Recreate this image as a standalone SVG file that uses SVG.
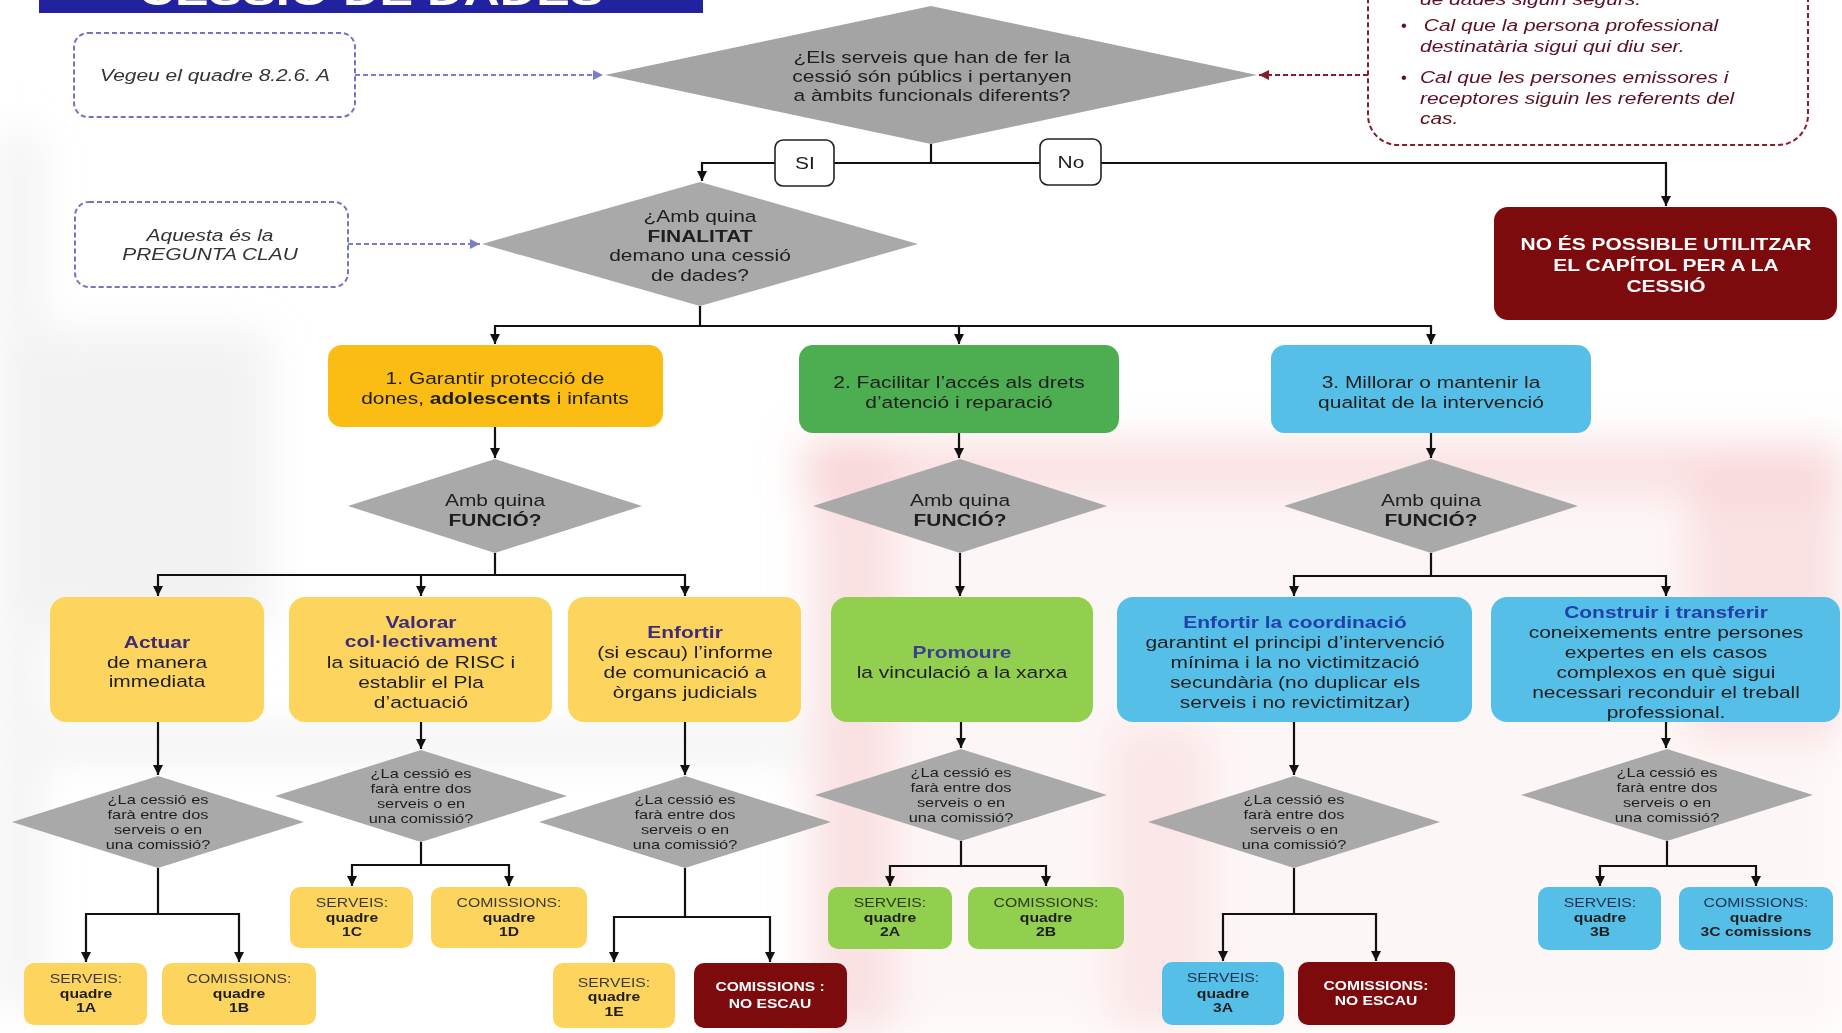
<svg xmlns="http://www.w3.org/2000/svg" width="1842" height="1033" viewBox="0 0 1842 1033">
<defs>
<style>
.tx{font-family:"Liberation Sans",Arial,sans-serif;text-anchor:middle;fill:#1e1e1e}
.st{text-anchor:start}
.s165{font-size:16.5px}
.s13{font-size:13px}
.s125{font-size:12.5px}
.b{font-weight:bold}
.it{font-style:italic}
.w{fill:#ffffff}
.hp{fill:#3d2c78;font-weight:bold}
.hg{fill:#3a3f8f;font-weight:bold}
.hb{fill:#2140a8;font-weight:bold}
.dia{fill:#a9a9a9}
.org{fill:#fbbd14}
.yel{fill:#fdd55e}
.grn{fill:#4cae50}
.lgr{fill:#92cf4f}
.blu{fill:#56bfe8}
.red{fill:#7d0b0e}
.lbl{fill:#ffffff;stroke:#222;stroke-width:1.6}
.dashp{fill:#ffffff;stroke:#7474c4;stroke-width:2;stroke-dasharray:5 3}
.dashr{fill:#ffffff;stroke:#8b1a2a;stroke-width:2;stroke-dasharray:5 3}
</style>
<marker id="ah" viewBox="0 0 10 10" refX="10" refY="5" markerWidth="10" markerHeight="10" markerUnits="userSpaceOnUse" orient="auto"><path d="M0,0 L10,5 L0,10 z" fill="#111"/></marker>
<marker id="ahp" viewBox="0 0 10 10" refX="10" refY="5" markerWidth="10" markerHeight="10" markerUnits="userSpaceOnUse" orient="auto"><path d="M0,0 L10,5 L0,10 z" fill="#7b7bd0"/></marker>
<marker id="ahr" viewBox="0 0 10 10" refX="10" refY="5" markerWidth="10" markerHeight="10" markerUnits="userSpaceOnUse" orient="auto"><path d="M0,0 L10,5 L0,10 z" fill="#8b1a2a"/></marker>
<filter id="blur" filterUnits="userSpaceOnUse" x="-100" y="-100" width="2042" height="1233"><feGaussianBlur stdDeviation="20"/></filter>
</defs>
<rect x="0" y="0" width="1842" height="1033" fill="#ffffff"/>
<g id="background" filter="url(#blur)">
<g fill="#e2e2e2" opacity="0.45">
<rect x="0" y="130" width="40" height="880"/>
<rect x="0" y="726" width="800" height="34"/>
<rect x="40" y="330" width="230" height="300"/>
</g>
<g fill="#f4c0c4">
<rect x="800" y="440" width="1042" height="593" opacity="0.15"/>
<rect x="800" y="440" width="1042" height="55" opacity="0.4"/>
<rect x="815" y="440" width="80" height="593" opacity="0.4"/>
<rect x="1690" y="470" width="152" height="270" opacity="0.4"/>
<rect x="1110" y="725" width="100" height="308" opacity="0.3"/>
</g>
</g>
<g id="connectors" fill="none" stroke="#111" stroke-width="2.2">
<path d="M355,75 H603" stroke="#7b7bd0" stroke-dasharray="5 3" marker-end="url(#ahp)"/>
<path d="M348,244 H480" stroke="#7b7bd0" stroke-dasharray="5 3" marker-end="url(#ahp)"/>
<path d="M1368,75 H1259" stroke="#8b1a2a" stroke-dasharray="5 3" marker-end="url(#ahr)"/>
<path d="M931,144 V163"/>
<path d="M931,163 H702 V181" marker-end="url(#ah)"/>
<path d="M931,163 H1666 V206" marker-end="url(#ah)"/>
<path d="M700,306 V326"/>
<path d="M700,326 H495 V344" marker-end="url(#ah)"/>
<path d="M700,326 H1431 V344" marker-end="url(#ah)"/>
<path d="M959,326 V344" marker-end="url(#ah)"/>
<path d="M495,427 V458" marker-end="url(#ah)"/>
<path d="M959,433 V458" marker-end="url(#ah)"/>
<path d="M1431,433 V458" marker-end="url(#ah)"/>
<path d="M495,553 V575"/>
<path d="M495,575 H158 V596" marker-end="url(#ah)"/>
<path d="M495,575 H685 V596" marker-end="url(#ah)"/>
<path d="M421,575 V596" marker-end="url(#ah)"/>
<path d="M960,553 V596" marker-end="url(#ah)"/>
<path d="M1431,553 V576"/>
<path d="M1431,576 H1294 V596" marker-end="url(#ah)"/>
<path d="M1431,576 H1666 V596" marker-end="url(#ah)"/>
<path d="M158,722 V775" marker-end="url(#ah)"/>
<path d="M421,722 V749" marker-end="url(#ah)"/>
<path d="M685,722 V775" marker-end="url(#ah)"/>
<path d="M961,722 V748" marker-end="url(#ah)"/>
<path d="M1294,722 V775" marker-end="url(#ah)"/>
<path d="M1666,722 V748" marker-end="url(#ah)"/>
<path d="M158,868 V914"/>
<path d="M158,914 H86 V962" marker-end="url(#ah)"/>
<path d="M158,914 H239 V962" marker-end="url(#ah)"/>
<path d="M421,842 V865"/>
<path d="M421,865 H352 V886" marker-end="url(#ah)"/>
<path d="M421,865 H509 V886" marker-end="url(#ah)"/>
<path d="M685,868 V917"/>
<path d="M685,917 H614 V962" marker-end="url(#ah)"/>
<path d="M685,917 H770 V962" marker-end="url(#ah)"/>
<path d="M961,841 V866"/>
<path d="M961,866 H890 V886" marker-end="url(#ah)"/>
<path d="M961,866 H1046 V886" marker-end="url(#ah)"/>
<path d="M1294,868 V914"/>
<path d="M1294,914 H1223 V961" marker-end="url(#ah)"/>
<path d="M1294,914 H1376 V961" marker-end="url(#ah)"/>
<path d="M1667,841 V866"/>
<path d="M1667,866 H1600 V886" marker-end="url(#ah)"/>
<path d="M1667,866 H1756 V886" marker-end="url(#ah)"/>
</g>
<g id="n-title">
<rect x="39" y="0" width="664" height="13" fill="#2222a0"/>
<g transform="translate(371 0) scale(1.26 1)"><text class="tx b w" style="font-size:40px" y="5">CESSIÓ DE DADES</text></g>
</g>
<g id="n-vegeu">
<rect class="dashp" x="74" y="33" width="281" height="84" rx="14"/>
<g transform="translate(215 0) scale(1.27 1)"><text class="tx s165 it" style="fill:#333" y="81">Vegeu el quadre 8.2.6. A</text></g>
</g>
<g id="n-q1">
<polygon class="dia" style="fill:#a4a4a4" points="605,75 931,6 1257,75 931,144"/>
<g transform="translate(932 0) scale(1.27 1)">
<text class="tx s165" y="63">¿Els serveis que han de fer la</text>
<text class="tx s165" y="82">cessió són públics i pertanyen</text>
<text class="tx s165" y="101">a àmbits funcionals diferents?</text>
</g>
</g>
<g id="n-nota">
<rect class="dashr" x="1368" y="-30" width="440" height="175" rx="30"/>
<text class="tx s165" style="fill:#5a1020" x="1404" y="31">•</text>
<text class="tx s165" style="fill:#5a1020" x="1404" y="83">•</text>
<g transform="translate(1420 0) scale(1.27 1)">
<text class="tx st s165 it" style="fill:#5a1020" y="5">de dades siguin segurs.</text>
<text class="tx st s165 it" style="fill:#5a1020" x="3" y="31">Cal que la persona professional</text>
<text class="tx st s165 it" style="fill:#5a1020" y="52">destinatària sigui qui diu ser.</text>
<text class="tx st s165 it" style="fill:#5a1020" y="83">Cal que les persones emissores i</text>
<text class="tx st s165 it" style="fill:#5a1020" y="104">receptores siguin les referents del</text>
<text class="tx st s165 it" style="fill:#5a1020" y="124">cas.</text>
</g>
</g>
<g id="n-si">
<rect class="lbl" x="775" y="140" width="59" height="46" rx="8"/>
<g transform="translate(805 0) scale(1.27 1)"><text class="tx s165" y="169">SI</text></g>
</g>
<g id="n-no">
<rect class="lbl" x="1040" y="139" width="61" height="46" rx="8"/>
<g transform="translate(1071 0) scale(1.27 1)"><text class="tx s165" y="168">No</text></g>
</g>
<g id="n-noes">
<rect class="red" x="1494" y="207" width="343" height="113" rx="14"/>
<g transform="translate(1666 0) scale(1.27 1)">
<text class="tx s165 b w" y="250">NO ÉS POSSIBLE UTILITZAR</text>
<text class="tx s165 b w" y="271">EL CAPÍTOL PER A LA</text>
<text class="tx s165 b w" y="292">CESSIÓ</text>
</g>
</g>
<g id="n-aquesta">
<rect class="dashp" x="75" y="202" width="273" height="85" rx="14"/>
<g transform="translate(210 0) scale(1.27 1)">
<text class="tx s165 it" style="fill:#333" y="241">Aquesta és la</text>
<text class="tx s165 it" style="fill:#333" y="260">PREGUNTA CLAU</text>
</g>
</g>
<g id="n-q2">
<polygon class="dia" points="482,244 700,182 918,244 700,306"/>
<g transform="translate(700 0) scale(1.27 1)">
<text class="tx s165" y="222">¿Amb quina</text>
<text class="tx s165 b" y="242">FINALITAT</text>
<text class="tx s165" y="261">demano una cessió</text>
<text class="tx s165" y="281">de dades?</text>
</g>
</g>
<g id="n-f1">
<rect class="org" x="328" y="345" width="335" height="82" rx="14"/>
<g transform="translate(495 0) scale(1.27 1)">
<text class="tx s165" y="384">1. Garantir protecció de</text>
<text class="tx s165" y="404">dones, <tspan class="b">adolescents</tspan> i infants</text>
</g>
</g>
<g id="n-f2">
<rect class="grn" x="799" y="345" width="320" height="88" rx="14"/>
<g transform="translate(959 0) scale(1.27 1)">
<text class="tx s165" y="388">2. Facilitar l’accés als drets</text>
<text class="tx s165" y="408">d’atenció i reparació</text>
</g>
</g>
<g id="n-f3">
<rect class="blu" x="1271" y="345" width="320" height="88" rx="14"/>
<g transform="translate(1431 0) scale(1.27 1)">
<text class="tx s165" y="388">3. Millorar o mantenir la</text>
<text class="tx s165" y="408">qualitat de la intervenció</text>
</g>
</g>
<g id="n-qa1">
<polygon class="dia" points="348,506 495,459 642,506 495,553"/>
<g transform="translate(495 0) scale(1.27 1)"><text class="tx s165" y="506">Amb quina</text><text class="tx s165 b" y="526">FUNCIÓ?</text></g>
</g>
<g id="n-qa2">
<polygon class="dia" points="813,506 960,459 1107,506 960,553"/>
<g transform="translate(960 0) scale(1.27 1)"><text class="tx s165" y="506">Amb quina</text><text class="tx s165 b" y="526">FUNCIÓ?</text></g>
</g>
<g id="n-qa3">
<polygon class="dia" points="1284,506 1431,459 1578,506 1431,553"/>
<g transform="translate(1431 0) scale(1.27 1)"><text class="tx s165" y="506">Amb quina</text><text class="tx s165 b" y="526">FUNCIÓ?</text></g>
</g>
<g id="n-actuar">
<rect class="yel" x="50" y="597" width="214" height="125" rx="16"/>
<g transform="translate(157 0) scale(1.27 1)">
<text class="tx s165 hp" y="648">Actuar</text>
<text class="tx s165" y="668">de manera</text>
<text class="tx s165" y="687">immediata</text>
</g>
</g>
<g id="n-valorar">
<rect class="yel" x="289" y="597" width="263" height="125" rx="16"/>
<g transform="translate(421 0) scale(1.27 1)">
<text class="tx s165 hp" y="628">Valorar</text>
<text class="tx s165 hp" y="647">col·lectivament</text>
<text class="tx s165" y="668">la situació de RISC i</text>
<text class="tx s165" y="688">establir el Pla</text>
<text class="tx s165" y="708">d’actuació</text>
</g>
</g>
<g id="n-enfortir">
<rect class="yel" x="568" y="597" width="233" height="125" rx="16"/>
<g transform="translate(685 0) scale(1.27 1)">
<text class="tx s165 hp" y="638">Enfortir</text>
<text class="tx s165" y="658">(si escau) l’informe</text>
<text class="tx s165" y="678">de comunicació a</text>
<text class="tx s165" y="698">òrgans judicials</text>
</g>
</g>
<g id="n-promoure">
<rect class="lgr" x="831" y="597" width="262" height="125" rx="16"/>
<g transform="translate(962 0) scale(1.27 1)">
<text class="tx s165 hg" y="658">Promoure</text>
<text class="tx s165" y="678">la vinculació a la xarxa</text>
</g>
</g>
<g id="n-coord">
<rect class="blu" x="1117" y="597" width="355" height="125" rx="16"/>
<g transform="translate(1295 0) scale(1.27 1)">
<text class="tx s165 hb" y="628">Enfortir la coordinació</text>
<text class="tx s165" y="648">garantint el principi d’intervenció</text>
<text class="tx s165" y="668">mínima i la no victimització</text>
<text class="tx s165" y="688">secundària (no duplicar els</text>
<text class="tx s165" y="708">serveis i no revictimitzar)</text>
</g>
</g>
<g id="n-construir">
<rect class="blu" x="1491" y="597" width="349" height="125" rx="16"/>
<g transform="translate(1666 0) scale(1.27 1)">
<text class="tx s165 hb" y="618">Construir i transferir</text>
<text class="tx s165" y="638">coneixements entre persones</text>
<text class="tx s165" y="658">expertes en els casos</text>
<text class="tx s165" y="678">complexos en què sigui</text>
<text class="tx s165" y="698">necessari reconduir el treball</text>
<text class="tx s165" y="718">professional.</text>
</g>
</g>
<g id="n-qb1">
<polygon class="dia" points="12,822 158,776 304,822 158,868"/>
<g transform="translate(158 0) scale(1.26 1)">
<text class="tx s13" y="804.5">¿La cessió es</text><text class="tx s13" y="819.3">farà entre dos</text><text class="tx s13" y="834.1">serveis o en</text><text class="tx s13" y="848.9">una comissió?</text>
</g>
</g>
<g id="n-qb2">
<polygon class="dia" points="275,796 421,750 567,796 421,842"/>
<g transform="translate(421 0) scale(1.26 1)">
<text class="tx s13" y="778.5">¿La cessió es</text><text class="tx s13" y="793.3">farà entre dos</text><text class="tx s13" y="808.1">serveis o en</text><text class="tx s13" y="822.9">una comissió?</text>
</g>
</g>
<g id="n-qb3">
<polygon class="dia" points="539,822 685,776 831,822 685,868"/>
<g transform="translate(685 0) scale(1.26 1)">
<text class="tx s13" y="804.5">¿La cessió es</text><text class="tx s13" y="819.3">farà entre dos</text><text class="tx s13" y="834.1">serveis o en</text><text class="tx s13" y="848.9">una comissió?</text>
</g>
</g>
<g id="n-qc1">
<polygon class="dia" points="815,795 961,749 1107,795 961,841"/>
<g transform="translate(961 0) scale(1.26 1)">
<text class="tx s13" y="777.5">¿La cessió es</text><text class="tx s13" y="792.3">farà entre dos</text><text class="tx s13" y="807.1">serveis o en</text><text class="tx s13" y="821.9">una comissió?</text>
</g>
</g>
<g id="n-qc2">
<polygon class="dia" points="1148,822 1294,776 1440,822 1294,868"/>
<g transform="translate(1294 0) scale(1.26 1)">
<text class="tx s13" y="804.5">¿La cessió es</text><text class="tx s13" y="819.3">farà entre dos</text><text class="tx s13" y="834.1">serveis o en</text><text class="tx s13" y="848.9">una comissió?</text>
</g>
</g>
<g id="n-qc3">
<polygon class="dia" points="1521,795 1667,749 1813,795 1667,841"/>
<g transform="translate(1667 0) scale(1.26 1)">
<text class="tx s13" y="777.5">¿La cessió es</text><text class="tx s13" y="792.3">farà entre dos</text><text class="tx s13" y="807.1">serveis o en</text><text class="tx s13" y="821.9">una comissió?</text>
</g>
</g>
<g id="n-1a">
<rect class="yel" x="24" y="963" width="123" height="62" rx="10"/>
<g transform="translate(86 0) scale(1.26 1)"><text class="tx s125" style="fill:#3a3a3a" y="983">SERVEIS:</text><text class="tx s125 b" y="998">quadre</text><text class="tx s125 b" y="1012">1A</text></g>
</g>
<g id="n-1b">
<rect class="yel" x="162" y="963" width="154" height="62" rx="10"/>
<g transform="translate(239 0) scale(1.26 1)"><text class="tx s125" style="fill:#3a3a3a" y="983">COMISSIONS:</text><text class="tx s125 b" y="998">quadre</text><text class="tx s125 b" y="1012">1B</text></g>
</g>
<g id="n-1c">
<rect class="yel" x="290" y="887" width="123" height="61" rx="10"/>
<g transform="translate(352 0) scale(1.26 1)"><text class="tx s125" style="fill:#3a3a3a" y="907">SERVEIS:</text><text class="tx s125 b" y="922">quadre</text><text class="tx s125 b" y="936">1C</text></g>
</g>
<g id="n-1d">
<rect class="yel" x="431" y="887" width="156" height="61" rx="10"/>
<g transform="translate(509 0) scale(1.26 1)"><text class="tx s125" style="fill:#3a3a3a" y="907">COMISSIONS:</text><text class="tx s125 b" y="922">quadre</text><text class="tx s125 b" y="936">1D</text></g>
</g>
<g id="n-1e">
<rect class="yel" x="553" y="963" width="122" height="65" rx="10"/>
<g transform="translate(614 0) scale(1.26 1)"><text class="tx s125" style="fill:#3a3a3a" y="987">SERVEIS:</text><text class="tx s125 b" y="1001">quadre</text><text class="tx s125 b" y="1016">1E</text></g>
</g>
<g id="n-noescau1">
<rect class="red" x="694" y="963" width="153" height="65" rx="10"/>
<g transform="translate(770 0) scale(1.25 1)"><text class="tx s125 b w" y="991">COMISSIONS :</text><text class="tx s125 b w" y="1008">NO ESCAU</text></g>
</g>
<g id="n-2a">
<rect class="lgr" x="828" y="887" width="124" height="62" rx="10"/>
<g transform="translate(890 0) scale(1.26 1)"><text class="tx s125" style="fill:#2e3a1e" y="907">SERVEIS:</text><text class="tx s125 b" y="922">quadre</text><text class="tx s125 b" y="936">2A</text></g>
</g>
<g id="n-2b">
<rect class="lgr" x="968" y="887" width="156" height="62" rx="10"/>
<g transform="translate(1046 0) scale(1.26 1)"><text class="tx s125" style="fill:#2e3a1e" y="907">COMISSIONS:</text><text class="tx s125 b" y="922">quadre</text><text class="tx s125 b" y="936">2B</text></g>
</g>
<g id="n-3a">
<rect class="blu" x="1162" y="962" width="122" height="63" rx="10"/>
<g transform="translate(1223 0) scale(1.26 1)"><text class="tx s125" style="fill:#1e3050" y="982">SERVEIS:</text><text class="tx s125 b" y="998">quadre</text><text class="tx s125 b" y="1012">3A</text></g>
</g>
<g id="n-noescau2">
<rect class="red" x="1298" y="962" width="157" height="63" rx="10"/>
<g transform="translate(1376 0) scale(1.25 1)"><text class="tx s125 b w" y="990">COMISSIONS:</text><text class="tx s125 b w" y="1005">NO ESCAU</text></g>
</g>
<g id="n-3b">
<rect class="blu" x="1538" y="887" width="123" height="63" rx="10"/>
<g transform="translate(1600 0) scale(1.26 1)"><text class="tx s125" style="fill:#1e3050" y="907">SERVEIS:</text><text class="tx s125 b" y="922">quadre</text><text class="tx s125 b" y="936">3B</text></g>
</g>
<g id="n-3c">
<rect class="blu" x="1679" y="887" width="154" height="63" rx="10"/>
<g transform="translate(1756 0) scale(1.26 1)"><text class="tx s125" style="fill:#1e3050" y="907">COMISSIONS:</text><text class="tx s125 b" y="922">quadre</text><text class="tx s125 b" y="936">3C comissions</text></g>
</g>
</svg>
